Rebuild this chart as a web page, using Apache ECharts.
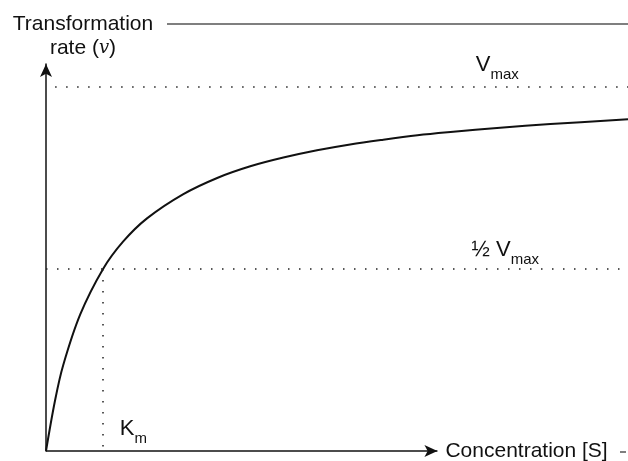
<!DOCTYPE html>
<html>
<head>
<meta charset="utf-8">
<script src="https://cdn.jsdelivr.net/npm/echarts@6/dist/echarts.min.js"></script>
<style>
  html, body { margin: 0; padding: 0; background: #fff; }
  #chart { width: 628px; height: 461px; }
</style>
</head>
<body>
<div id="chart"></div>
<script>
// substrate concentration in units of Km, rate in units of Vmax
const concentration = [0, 0.16, 0.30, 0.60, 1.0, 1.35, 1.77, 2.40, 3.0, 3.58, 4.16, 4.75, 5.33, 5.91, 6.51, 7.09, 7.96, 8.84, 10.2];
const rate = [0, 0.14, 0.235, 0.375, 0.50, 0.575, 0.639, 0.705, 0.75, 0.782, 0.806, 0.826, 0.842, 0.855, 0.867, 0.876, 0.888, 0.898, 0.911];
const vmax = 1;
const km = 1;
const xMax = 10.2;
const yMax = 1.063;
const xArrowEnd = 6.86;

const FONT = '"Liberation Sans", Arial, sans-serif';
const INK = '#111';

const chart = echarts.init(document.getElementById('chart'));

const subRich = {
  v: { fontFamily: FONT, fontSize: 22, color: INK, padding: [0, 0, 6, 0] },
  s: { fontFamily: FONT, fontSize: 15, color: INK, verticalAlign: 'bottom' }
};

const dotted = { color: '#222', width: 1.5, type: [1.5, 9.5] };

const option = {
  animation: false,
  grid: { left: 46, right: 0, top: 64, bottom: 10 },
  xAxis: {
    type: 'value',
    min: 0,
    max: xMax,
    axisLine: { show: false },
    axisTick: { show: false },
    axisLabel: { show: false },
    splitLine: { show: false }
  },
  yAxis: {
    type: 'value',
    min: 0,
    max: yMax,
    axisLine: {
      show: true,
      symbol: ['none', 'arrow'],
      symbolSize: [9, 13],
      lineStyle: { color: INK, width: 1.5 }
    },
    axisTick: { show: false },
    axisLabel: { show: false },
    splitLine: { show: false }
  },
  graphic: [
    {
      type: 'text',
      x: 83,
      y: 12,
      style: {
        text: 'Transformation\nrate ({i|v})',
        align: 'center',
        fontFamily: FONT,
        fontSize: 21,
        lineHeight: 24,
        fill: INK,
        rich: {
          i: { fontFamily: '"DejaVu Serif", "Liberation Serif", serif', fontStyle: 'italic', fontSize: 18, fill: INK }
        }
      }
    },
    {
      type: 'line',
      shape: { x1: 167, y1: 24, x2: 628, y2: 24 },
      style: { stroke: '#555', lineWidth: 1.5 }
    },
    {
      type: 'line',
      shape: { x1: 620, y1: 452, x2: 626, y2: 452 },
      style: { stroke: '#555', lineWidth: 1.5 }
    }
  ],
  series: [
    {
      name: 'rate',
      type: 'line',
      smooth: 0.35,
      symbol: 'none',
      lineStyle: { color: INK, width: 2 },
      data: concentration.map((c, i) => [c, rate[i]]),
      z: 3
    },
    {
      name: 'guides',
      type: 'line',
      data: [],
      markLine: {
        silent: true,
        symbol: ['none', 'none'],
        label: { show: false },
        lineStyle: dotted,
        data: [
          [{ coord: [0.16, vmax] }, { coord: [xMax, vmax] }],
          [{ coord: [0, vmax / 2] }, { coord: [xMax, vmax / 2] }],
          [{ coord: [km, vmax / 2] }, { coord: [km, 0] }]
        ]
      }
    },
    {
      name: 'xaxis',
      type: 'line',
      data: [],
      markLine: {
        silent: true,
        symbol: ['none', 'arrow'],
        symbolSize: [9, 13],
        lineStyle: { color: INK, width: 1.5, type: 'solid' },
        label: {
          show: true,
          position: 'end',
          distance: 8,
          formatter: 'Concentration [S]',
          fontFamily: FONT,
          fontSize: 21,
          color: INK
        },
        data: [[{ coord: [0, 0] }, { coord: [xArrowEnd, 0] }]]
      }
    },
    {
      name: 'labels',
      type: 'line',
      data: [],
      markPoint: {
        silent: true,
        symbol: 'circle',
        symbolSize: 0,
        label: { show: true, position: 'inside', rich: subRich },
        data: [
          { coord: [7.91, 1.052], label: { formatter: '{v|V}{s|max}' } },
          { coord: [8.05, 0.544], label: { formatter: '{v|½ V}{s|max}' } },
          { coord: [1.53, 0.052], label: { formatter: '{v|K}{s|m}' } }
        ]
      }
    }
  ]
};

chart.setOption(option);
window.addEventListener('resize', () => chart.resize());
</script>
</body>
</html>
